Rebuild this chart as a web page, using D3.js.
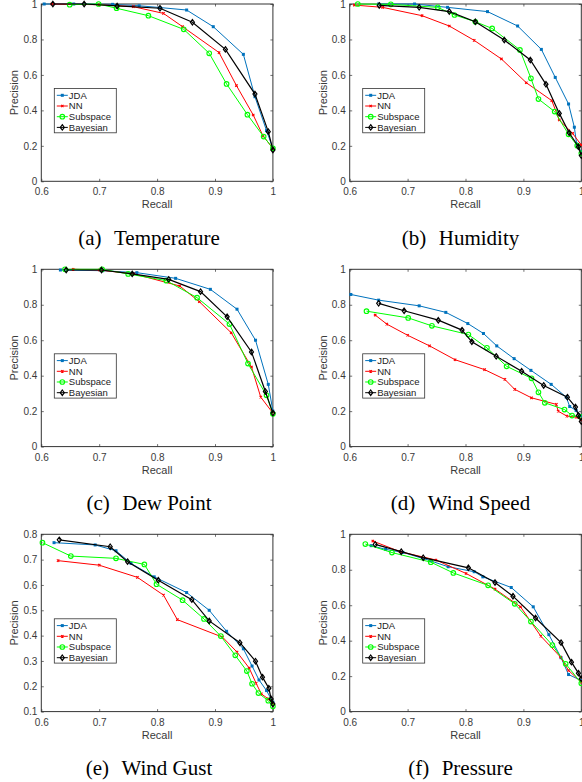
<!DOCTYPE html>
<html>
<head>
<meta charset="utf-8">
<script src="https://cdn.jsdelivr.net/npm/d3@7"></script>
<style>
  body { margin: 0; background: #fff; }
  svg { display: block; }
</style>
</head>
<body>
<svg id="chart" width="582" height="782"></svg>
<script>
// recall / precision pairs
const tempJDA = [[0.605,1.0],[0.656,1.0],[0.723,0.998],[0.769,0.99],[0.805,0.98],[0.851,0.966],[0.897,0.872],[0.949,0.716],[0.969,0.477],[0.989,0.286],[1.0,0.186]];
const tempNN = [[0.618,1.0],[0.70,0.996],[0.759,0.985],[0.811,0.947],[0.844,0.872],[0.907,0.726],[0.937,0.54],[0.966,0.374],[0.983,0.256],[1.0,0.186]];
const tempSub = [[0.649,0.996],[0.699,1.0],[0.730,0.976],[0.785,0.934],[0.846,0.857],[0.890,0.722],[0.920,0.549],[0.956,0.376],[0.984,0.252],[1.0,0.186]];
const tempBay = [[0.620,1.0],[0.674,1.0],[0.731,0.989],[0.805,0.976],[0.861,0.897],[0.918,0.744],[0.969,0.492],[0.992,0.28],[1.0,0.177]];

const humJDA = [[0.650,1.0],[0.712,1.0],[0.769,0.981],[0.838,0.957],[0.890,0.876],[0.931,0.744],[0.955,0.586],[0.978,0.436],[0.988,0.305],[0.992,0.21],[1.0,0.167]];
const humNN = [[0.608,0.994],[0.657,0.981],[0.725,0.934],[0.772,0.876],[0.815,0.795],[0.862,0.69],[0.905,0.556],[0.949,0.455],[0.962,0.346],[0.985,0.27],[1.0,0.205]];
const humSub = [[0.614,1.0],[0.671,0.998],[0.752,0.981],[0.781,0.938],[0.817,0.90],[0.846,0.862],[0.894,0.741],[0.913,0.581],[0.926,0.464],[0.954,0.393],[0.978,0.265],[0.993,0.201],[1.0,0.158]];
const humBay = [[0.651,0.992],[0.720,0.981],[0.772,0.957],[0.817,0.90],[0.867,0.797],[0.912,0.684],[0.939,0.547],[0.962,0.383],[0.979,0.274],[0.995,0.195],[1.0,0.145]];

const dewJDA = [[0.633,0.996],[0.706,0.992],[0.765,0.981],[0.832,0.949],[0.892,0.887],[0.938,0.775],[0.970,0.6],[0.992,0.351],[1.0,0.2]];
const dewNN = [[0.655,1.0],[0.70,0.996],[0.760,0.974],[0.839,0.906],[0.873,0.817],[0.928,0.642],[0.963,0.449],[0.979,0.279],[1.0,0.189]];
const dewSub = [[0.641,1.0],[0.705,1.0],[0.750,0.974],[0.816,0.936],[0.869,0.840],[0.925,0.691],[0.957,0.468],[0.989,0.289],[1.0,0.185]];
const dewBay = [[0.643,0.996],[0.704,0.996],[0.757,0.974],[0.820,0.943],[0.875,0.874],[0.921,0.732],[0.963,0.534],[0.987,0.311],[1.0,0.189]];

const speedJDA = [[0.602,0.858],[0.650,0.826],[0.720,0.794],[0.766,0.757],[0.804,0.694],[0.831,0.638],[0.854,0.568],[0.884,0.496],[0.913,0.43],[0.948,0.351],[0.974,0.279],[0.980,0.226],[0.991,0.204],[1.0,0.175]];
const speedNN = [[0.644,0.742],[0.664,0.691],[0.70,0.628],[0.738,0.568],[0.782,0.49],[0.833,0.434],[0.868,0.379],[0.885,0.323],[0.914,0.275],[0.957,0.238],[0.960,0.2],[0.975,0.172],[0.991,0.166],[1.0,0.151]];
const speedSub = [[0.629,0.764],[0.701,0.726],[0.742,0.681],[0.805,0.632],[0.837,0.557],[0.871,0.453],[0.914,0.385],[0.926,0.306],[0.937,0.247],[0.971,0.209],[0.984,0.175],[1.0,0.166]];
const speedBay = [[0.65,0.808],[0.694,0.766],[0.753,0.713],[0.794,0.657],[0.811,0.591],[0.853,0.509],[0.897,0.425],[0.935,0.345],[0.976,0.279],[0.990,0.223],[0.995,0.175],[1.0,0.142]];

const gustJDA = [[0.622,0.767],[0.693,0.758],[0.729,0.735],[0.755,0.685],[0.795,0.632],[0.851,0.570],[0.890,0.500],[0.920,0.417],[0.949,0.348],[0.964,0.280],[0.976,0.225],[0.989,0.183],[1.0,0.137]];
const gustNN = [[0.629,0.696],[0.700,0.678],[0.766,0.630],[0.811,0.560],[0.835,0.463],[0.913,0.394],[0.938,0.335],[0.959,0.272],[0.971,0.212],[0.980,0.170],[0.992,0.150],[1.0,0.130]];
const gustSub = [[0.602,0.767],[0.651,0.714],[0.729,0.705],[0.778,0.681],[0.799,0.603],[0.844,0.540],[0.881,0.466],[0.910,0.398],[0.935,0.322],[0.955,0.260],[0.964,0.21],[0.975,0.173],[0.992,0.143],[1.0,0.121]];
const gustBay = [[0.631,0.778],[0.719,0.751],[0.749,0.692],[0.802,0.619],[0.86,0.542],[0.89,0.458],[0.943,0.372],[0.970,0.299],[0.982,0.236],[0.993,0.192],[0.997,0.150],[1.0,0.130]];

const presJDA = [[0.637,0.936],[0.662,0.915],[0.692,0.898],[0.739,0.851],[0.770,0.817],[0.815,0.789],[0.83,0.76],[0.879,0.70],[0.917,0.591],[0.944,0.434],[0.965,0.304],[0.978,0.209],[1.0,0.175]];
const presNN = [[0.640,0.962],[0.687,0.902],[0.749,0.855],[0.801,0.779],[0.851,0.691],[0.895,0.591],[0.930,0.426],[0.964,0.308],[0.978,0.232],[1.0,0.166]];
const presSub = [[0.627,0.945],[0.673,0.897],[0.74,0.843],[0.779,0.782],[0.839,0.712],[0.885,0.608],[0.913,0.508],[0.95,0.375],[0.973,0.27],[1.0,0.16]];
const presBay = [[0.644,0.943],[0.689,0.902],[0.727,0.868],[0.805,0.811],[0.851,0.728],[0.882,0.651],[0.921,0.528],[0.965,0.389],[0.983,0.279],[0.995,0.217],[1.0,0.185]];

const seriesNames = ["JDA", "NN", "Subspace", "Bayesian"];
const seriesColors = ["#0072bd", "#ff0000", "#00ff00", "#000000"];
const xTicks = [0.6, 0.7, 0.8, 0.9, 1];
const yTicksFull = [0, 0.2, 0.4, 0.6, 0.8, 1];
const yTicksGust = [0.1, 0.2, 0.3, 0.4, 0.5, 0.6, 0.7, 0.8];

const panels = [
    {letter: "(a)", title: "Temperature", series: [tempJDA, tempNN, tempSub, tempBay], yDomain: [0, 1], yTicks: yTicksFull},
    {letter: "(b)", title: "Humidity", series: [humJDA, humNN, humSub, humBay], yDomain: [0, 1], yTicks: yTicksFull},
    {letter: "(c)", title: "Dew Point", series: [dewJDA, dewNN, dewSub, dewBay], yDomain: [0, 1], yTicks: yTicksFull},
    {letter: "(d)", title: "Wind Speed", series: [speedJDA, speedNN, speedSub, speedBay], yDomain: [0, 1], yTicks: yTicksFull},
    {letter: "(e)", title: "Wind Gust", series: [gustJDA, gustNN, gustSub, gustBay], yDomain: [0.1, 0.8], yTicks: yTicksGust},
    {letter: "(f)", title: "Pressure", series: [presJDA, presNN, presSub, presBay], yDomain: [0, 1], yTicks: yTicksFull}
];

const svg = d3.select("#chart");
const colLeft = [41.3, 349.7];
const rowTop = [4, 269.3, 534.3];
const captionCenter = [149, 460.5];
const plotW = 231.6;
const plotH = 177.3;
const axisColor = "#333";
const sansFont = "'Liberation Sans', Arial, Helvetica, sans-serif";

function drawMarker(g, kind, x, y, color) {
    if (kind == 0) {
        g.append("rect").attr("x", x - 1.5).attr("y", y - 1.5).attr("width", 3).attr("height", 3)
            .attr("fill", color);
    } else if (kind == 1) {
        g.append("path").attr("d", `M${x-1.2},${y-1.2}L${x+1.2},${y+1.2}M${x-1.2},${y+1.2}L${x+1.2},${y-1.2}`)
            .attr("stroke", color).attr("stroke-width", 1.1);
    } else if (kind == 2) {
        g.append("circle").attr("cx", x).attr("cy", y).attr("r", 2.3)
            .attr("fill", "none").attr("stroke", color).attr("stroke-width", 1.1);
    } else {
        g.append("path").attr("d", `M${x},${y-2.7}L${x+2},${y}L${x},${y+2.7}L${x-2},${y}Z`)
            .attr("fill", "none").attr("stroke", color).attr("stroke-width", 1.2);
    }
}

panels.forEach((p, i) => {
    const col = i % 2;
    const row = Math.floor(i / 2);
    const left = colLeft[col];
    const top = rowTop[row];

    const x = d3.scaleLinear().domain([0.6, 1]).range([0, plotW]);
    const y = d3.scaleLinear().domain(p.yDomain).range([plotH, 0]);

    const g = svg.append("g").attr("transform", "translate(" + left + "," + top + ")");

    // axes with inward ticks
    g.append("g").attr("transform", "translate(0," + plotH + ")")
        .call(d3.axisBottom(x).tickValues(xTicks).tickFormat(d => String(d)).tickSizeInner(-2.5).tickSizeOuter(0).tickPadding(7));
    g.append("g")
        .call(d3.axisLeft(y).tickValues(p.yTicks).tickFormat(d => String(d)).tickSizeInner(-2.5).tickSizeOuter(0).tickPadding(4));
    g.append("g")
        .call(d3.axisTop(x).tickValues(xTicks).tickFormat("").tickSizeInner(-2.5).tickSizeOuter(0));
    g.append("g").attr("transform", "translate(" + plotW + ",0)")
        .call(d3.axisRight(y).tickValues(p.yTicks).tickFormat("").tickSizeInner(-2.5).tickSizeOuter(0));

    g.selectAll(".domain").remove();
    g.selectAll(".tick line").attr("stroke", axisColor).attr("stroke-width", 0.7);
    g.selectAll(".tick text").attr("fill", "#3a3a3a").style("font-family", sansFont).style("font-size", "10px");

    g.append("rect")
        .attr("x", 0).attr("y", 0).attr("width", plotW).attr("height", plotH)
        .attr("fill", "none").attr("stroke", axisColor).attr("stroke-width", 1);

    // curves
    const line = d3.line()
        .x(d => x(d[0]))
        .y(d => y(d[1]));

    p.series.forEach((pts, s) => {
        g.append("path")
            .attr("d", line(pts))
            .attr("fill", "none")
            .attr("stroke", seriesColors[s])
            .attr("stroke-width", s == 3 ? 1.2 : 1);
        pts.forEach(d => drawMarker(g, s, x(d[0]), y(d[1]), seriesColors[s]));
    });

    // labels
    g.append("text")
        .attr("x", plotW / 2).attr("y", plotH + 27)
        .attr("text-anchor", "middle")
        .attr("fill", "#3a3a3a")
        .style("font-family", sansFont).style("font-size", "11px")
        .text("Recall");
    g.append("text")
        .attr("transform", "translate(" + (col == 0 ? -23.5 : -22.5) + "," + (plotH / 2) + ") rotate(-90)")
        .attr("text-anchor", "middle")
        .attr("fill", "#3a3a3a")
        .style("font-family", sansFont).style("font-size", "11px")
        .text("Precision");

    // legend
    const legend = g.append("g").attr("transform", "translate(13,84.5)");
    legend.append("rect")
        .attr("width", 62).attr("height", 44.3)
        .attr("fill", "#fff").attr("stroke", axisColor).attr("stroke-width", 0.8);
    seriesNames.forEach((name, s) => {
        const ly = 6.8 + s * 10.7;
        legend.append("line")
            .attr("x1", 2.5).attr("x2", 13.5).attr("y1", ly).attr("y2", ly)
            .attr("stroke", seriesColors[s]).attr("stroke-width", 1);
        drawMarker(legend, s, 8, ly, seriesColors[s]);
        legend.append("text")
            .attr("x", 14.5).attr("y", ly + 3.4)
            .attr("fill", "#222")
            .style("font-family", sansFont).style("font-size", "9.5px")
            .text(name);
    });

    // caption
    const cap = svg.append("text")
        .attr("x", captionCenter[col]).attr("y", top + plotH + 63.5)
        .attr("text-anchor", "middle")
        .attr("fill", "#000")
        .style("font-family", "'Liberation Serif', 'Times New Roman', serif")
        .style("font-size", "21px");
    cap.append("tspan").text(p.letter);
    cap.append("tspan").attr("dx", 12.5).text(p.title);
});
</script>
</body>
</html>
